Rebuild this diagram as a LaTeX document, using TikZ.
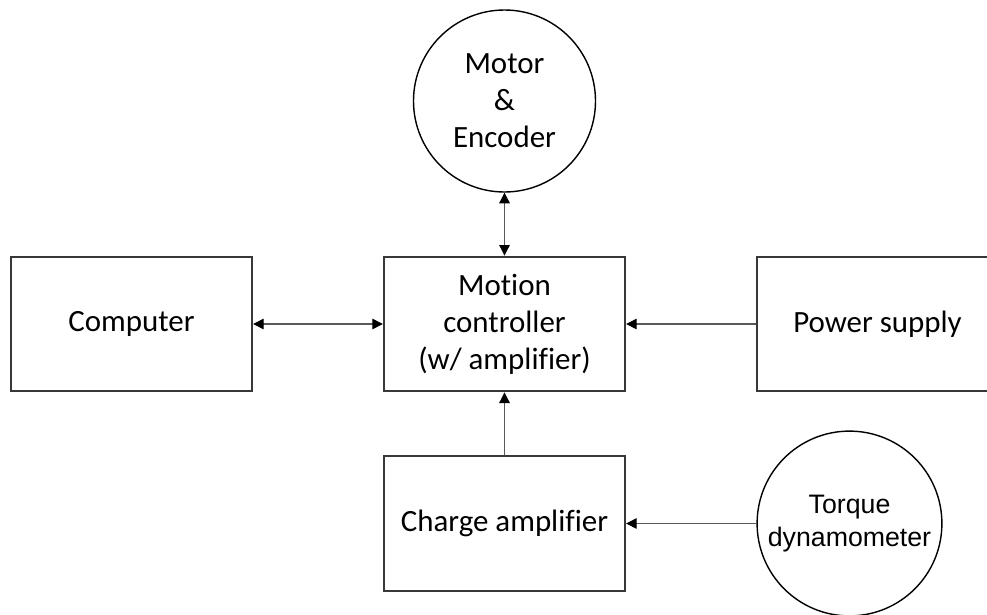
\documentclass[tikz,border=0pt]{standalone}
\usepackage{fontspec}
\setmainfont{Carlito}[Ligatures={NoCommon,NoContextual}]
\newfontfamily\arialfont{Liberation Sans}
\usetikzlibrary{arrows.meta}
\tikzset{
	block/.style={draw=black!78, line width=1.5pt, minimum width=6.03cm, minimum height=3.37cm,
		inner sep=0pt, align=center, font=\fontsize{22}{26.4}\selectfont},
	unit/.style={draw=black, line width=1pt, circle, inner sep=0pt, align=center,
		font=\fontsize{22}{26.4}\selectfont},
	link/.style={draw=black!65, line width=0.75pt},
	>={Triangle[length=7.5pt,width=7.5pt,color=black]}
}
\begin{document}
\begin{tikzpicture}[scale=0.25]
	\useasboundingbox (0,0) rectangle (98.7,-61.4);
	% boxes
	\node[block] (comp) at (13.15,-32.4) {Computer};
	\node[block] (ctrl) at (50.45,-32.4) {Motion\\controller\\(w/ amplifier)};
	\node[block] (power) at (87.75,-32.4) {Power supply};
	\node[block] (charge) at (50.45,-52.35) {Charge amplifier};
	% circles
	\node[unit, minimum size=4.55cm] (motor) at (50.45,-10.1) {Motor\\\&\\Encoder};
	\node[unit, minimum size=4.62cm, font=\arialfont\fontsize{19}{23.4}\selectfont] (torque) at (84.95,-52.35) {Torque\\dynamometer};
	% signal lines
	\draw[link,<->] (comp) -- (ctrl);
	\draw[link,<->] (motor) -- (ctrl);
	\draw[link,->] (power) -- (ctrl);
	\draw[link,->] (charge) -- (ctrl);
	\draw[link,->] (torque) -- (charge);
\end{tikzpicture}
\end{document}
